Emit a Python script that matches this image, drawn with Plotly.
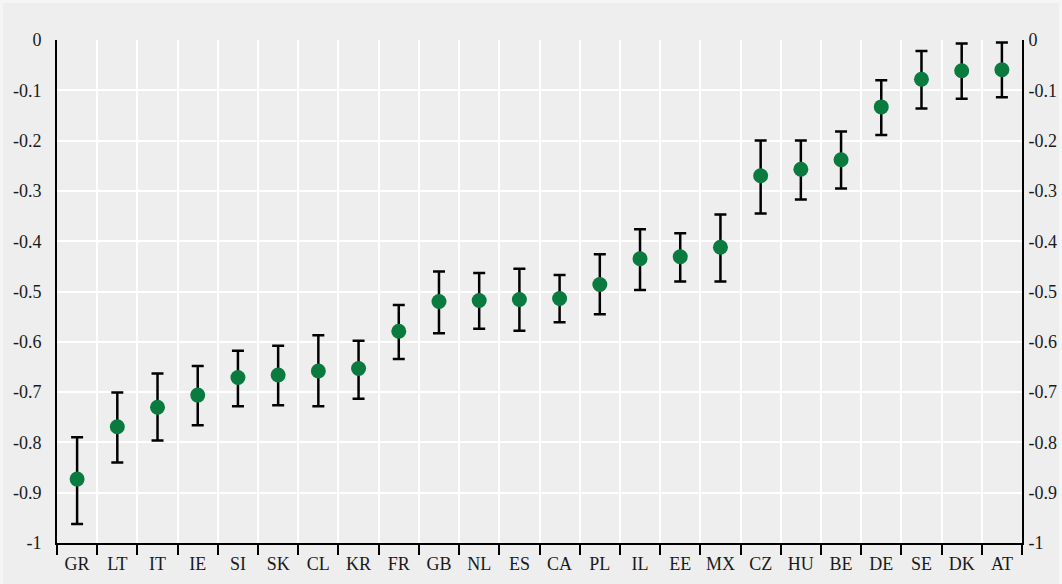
import plotly.graph_objects as go

countries = ["GR", "LT", "IT", "IE", "SI", "SK", "CL", "KR", "FR", "GB", "NL", "ES",
             "CA", "PL", "IL", "EE", "MX", "CZ", "HU", "BE", "DE", "SE", "DK", "AT"]
estimate = [-0.873, -0.769, -0.730, -0.706, -0.671, -0.666, -0.658, -0.653, -0.579, -0.520,
            -0.518, -0.516, -0.514, -0.486, -0.435, -0.431, -0.412, -0.270, -0.257, -0.238,
            -0.133, -0.078, -0.061, -0.059]
upper = [-0.790, -0.701, -0.663, -0.648, -0.618, -0.608, -0.587, -0.598, -0.527, -0.460,
         -0.463, -0.455, -0.467, -0.426, -0.376, -0.384, -0.347, -0.200, -0.200, -0.182,
         -0.080, -0.022, -0.007, -0.005]
lower = [-0.962, -0.840, -0.796, -0.766, -0.728, -0.726, -0.728, -0.713, -0.634, -0.583,
         -0.574, -0.578, -0.561, -0.545, -0.497, -0.480, -0.480, -0.345, -0.317, -0.295,
         -0.189, -0.136, -0.117, -0.114]
y_tickvals = [0, -0.1, -0.2, -0.3, -0.4, -0.5, -0.6, -0.7, -0.8, -0.9, -1]
y_ticktext = ["0", "-0.1", "-0.2", "-0.3", "-0.4", "-0.5", "-0.6", "-0.7", "-0.8", "-0.9", "-1"]

err_plus = [u - e for u, e in zip(upper, estimate)]
err_minus = [e - l for e, l in zip(estimate, lower)]

font_family = "Liberation Serif, Times New Roman, serif"
bg = "#eeeeee"

fig = go.Figure()
fig.add_trace(go.Scatter(
    x=countries, y=estimate, mode="markers",
    marker=dict(color="#0a7b3e", size=15),
    error_y=dict(type="data", symmetric=False, array=err_plus, arrayminus=err_minus,
                 color="black", thickness=2.5, width=6),
    showlegend=False, hoverinfo="x+y",
))
# invisible trace for right axis
fig.add_trace(go.Scatter(x=countries, y=estimate, yaxis="y2", mode="markers",
                         marker=dict(opacity=0), showlegend=False, hoverinfo="skip"))

axis_font = dict(family=font_family, size=18, color="#1a1a1a")
n = len(countries)

fig.update_layout(
    width=1059, height=581,
    paper_bgcolor=bg, plot_bgcolor=bg,
    margin=dict(l=54, r=40, t=37, b=41, autoexpand=False),
    font=axis_font,
    xaxis=dict(
        type="category", categoryorder="array", categoryarray=countries,
        range=[-0.5, n - 0.5], autorange=False,
        tickson="boundaries", ticks="outside", ticklen=10, tickwidth=1.5, tickcolor="black",
        tickangle=0, automargin=False, ticklabelstandoff=3,
        showgrid=True, gridcolor="white", gridwidth=2,
        showline=True, linecolor="black", linewidth=2,
        tickfont=axis_font, zeroline=False,
    ),
    yaxis=dict(
        range=[-1, 0], tickvals=y_tickvals, ticktext=y_ticktext, automargin=False,
        showgrid=True, gridcolor="white", gridwidth=2,
        showline=True, linecolor="black", linewidth=2,
        ticks="", ticklabelstandoff=10, zeroline=False, tickfont=axis_font,
    ),
    yaxis2=dict(
        range=[-1, 0], tickvals=y_tickvals, ticktext=y_ticktext, automargin=False,
        overlaying="y", side="right", showgrid=False,
        showline=True, linecolor="black", linewidth=2,
        ticks="", ticklabelstandoff=1, zeroline=False, tickfont=axis_font,
    ),
)

fig.write_html(
    "out.html",
    post_script="document.body.style.margin='3px';document.body.style.background='#f5f5f5';",
)
